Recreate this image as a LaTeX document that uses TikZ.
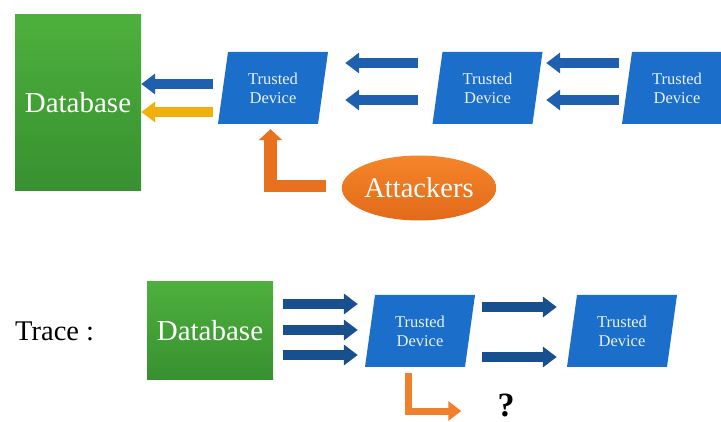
\documentclass[tikz,border=0pt]{standalone}
\usepackage{fontspec}
\setmainfont{Liberation Serif}
\usetikzlibrary{arrows.meta,calc,shapes.geometric}

\definecolor{dbtop}{HTML}{4DB03C}
\definecolor{dbbot}{HTML}{389030}
\definecolor{devblue}{HTML}{1B6FCB}
\definecolor{devtxt}{HTML}{EAF0FA}
\definecolor{arrblue}{HTML}{1E60AE}
\definecolor{arrdark}{HTML}{184F8E}
\definecolor{warnyellow}{HTML}{F2B00C}
\definecolor{attorange}{HTML}{E8701F}
\definecolor{atttop}{HTML}{F5852A}
\definecolor{attbot}{HTML}{E26A1A}
\definecolor{qorange}{HTML}{F0802C}

% parallelogram "Trusted Device" box: fill first, then the named text node on top
\newcommand{\TrustedDevice}[3]{%
  \fill[devblue] (#2-45,#3-36) -- (#2+55,#3-36) -- (#2+45,#3+36) -- (#2-55,#3+36) -- cycle;
  \node[devtext] (#1) at (#2,#3) {Trusted\\Device};
}

\begin{document}
\begin{tikzpicture}[x=1pt,y=-1pt,
  dbbox/.style={rectangle, top color=dbtop, bottom color=dbbot, draw=none,
    inner sep=0pt, text=white, font=\fontsize{29}{32}\selectfont},
  devtext/.style={minimum width=100pt, minimum height=72pt, inner sep=0pt,
    text=devtxt, align=center, font=\fontsize{16.5}{19}\selectfont},
  blockarrow/.style={line width=10pt, line cap=butt,
    -{Triangle[length=14pt,width=20pt]}},
  arrT/.style={blockarrow, draw=arrblue},
  arrY/.style={blockarrow, draw=warnyellow},
  arrD/.style={blockarrow, draw=arrdark},
]
\useasboundingbox (0,0) rectangle (721,422);
\clip (0,0) rectangle (721,422);

% ---------- upper chain ----------
\node[dbbox, minimum width=126pt, minimum height=176pt] (db1) at (78,103) {Database};
\TrustedDevice{dev1}{273}{88}
\TrustedDevice{dev2}{487.5}{88}
\TrustedDevice{dev3}{677}{88}

\draw[arrT] ($(dev1.west)+(-10,-4)$) -- ($(db1.east)+(0,-19)$);
\draw[arrY] ($(dev1.west)+(-10,24)$) -- ($(db1.east)+(0,9)$);

\draw[arrT] ($(dev2.west)+(-19.5,-25)$) -- ($(dev1.east)+(22,-25)$);
\draw[arrT] ($(dev2.west)+(-19.5,12)$) -- ($(dev1.east)+(22,12)$);

\draw[arrT] ($(dev3.west)+(-8,-25)$) -- ($(dev2.east)+(8.5,-25)$);
\draw[arrT] ($(dev3.west)+(-8,12)$) -- ($(dev2.east)+(8.5,12)$);

\node[ellipse, top color=atttop, bottom color=attbot, minimum width=142pt,
  minimum height=65pt, inner sep=0pt, text=white,
  font=\fontsize{28.5}{31}\selectfont] (att) at (419,188) {Attackers};

\draw[draw=attorange, line width=12.5pt, line cap=butt, line join=miter,
  -{Triangle[length=11pt,width=23pt]}]
  ($(att.west)+(-16,-2)$) -| ($(dev1.south)+(-2.5,5)$);

% ---------- trace ----------
\node[anchor=west, inner sep=0pt, font=\fontsize{28.5}{31}\selectfont] (trace)
  at (15,331) {Trace :};

\node[dbbox, minimum width=126pt, minimum height=98pt] (db2) at (210,331) {Database};
\TrustedDevice{bdev1}{420}{331}
\TrustedDevice{bdev2}{622}{331}

\draw[arrD] ($(db2.east)+(10,-27)$) -- ($(bdev1.west)+(-12,-27)$);
\draw[arrD] ($(db2.east)+(10,-1)$) -- ($(bdev1.west)+(-12,-1)$);
\draw[arrD] ($(db2.east)+(10,24)$) -- ($(bdev1.west)+(-12,24)$);

\draw[arrD] ($(bdev1.east)+(12,-24)$) -- ($(bdev2.west)+(-15,-24)$);
\draw[arrD] ($(bdev1.east)+(12,26)$) -- ($(bdev2.west)+(-15,26)$);

\node[inner sep=0pt, font=\bfseries\fontsize{34}{36}\selectfont] (q) at (506,405) {?};

\draw[draw=qorange, line width=7pt, line cap=butt, line join=miter,
  -{Triangle[length=13pt,width=19pt]}]
  ($(bdev1.south)+(-11.5,6)$) |- ($(q.west)+(-36,6)$);
\end{tikzpicture}
\end{document}
